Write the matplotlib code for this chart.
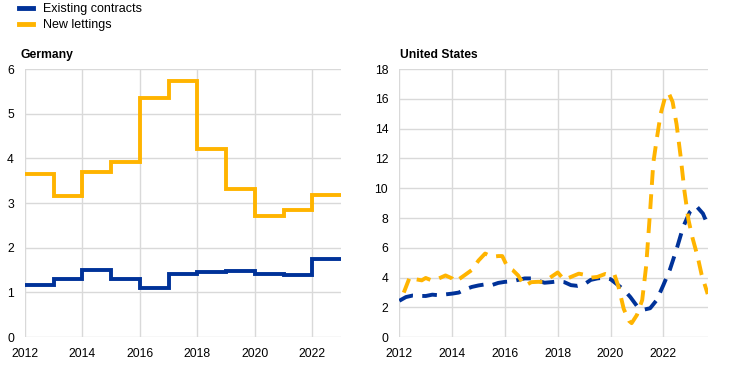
import matplotlib
matplotlib.use('Agg')
import matplotlib.pyplot as plt
from matplotlib.lines import Line2D

plt.rcParams['font.family'] = ['Liberation Sans', 'DejaVu Sans']

blue = '#003299'
orange = '#ffb400'
grid_col = '#d9d9d9'

# Germany - annual values
de_years = [2012, 2013, 2014, 2015, 2016, 2017, 2018, 2019, 2020, 2021, 2022]
de_existing = [1.17, 1.30, 1.50, 1.29, 1.09, 1.40, 1.45, 1.47, 1.41, 1.39, 1.75]
de_new = [3.66, 3.16, 3.70, 3.92, 5.36, 5.73, 4.21, 3.32, 2.72, 2.85, 3.17]

# United States
us_x_existing = [2012.0, 2012.25, 2012.5, 2012.75, 2013.0, 2013.25, 2013.5, 2013.75,
                 2014.0, 2014.25, 2014.5, 2014.75, 2015.0, 2015.25, 2015.5, 2015.75,
                 2016.0, 2016.25, 2016.5, 2016.75, 2017.0, 2017.25, 2017.5, 2017.75,
                 2018.0, 2018.25, 2018.5, 2018.75, 2019.0, 2019.25, 2019.5, 2019.75,
                 2020.0, 2020.25, 2020.5, 2020.75, 2021.0, 2021.25, 2021.5, 2021.75,
                 2022.0, 2022.25, 2022.5, 2022.75, 2023.0, 2023.25, 2023.5, 2023.68]
us_existing = [2.45, 2.70, 2.80, 2.78, 2.77, 2.86, 2.82, 2.88,
               2.93, 3.00, 3.22, 3.38, 3.48, 3.55, 3.50, 3.65,
               3.72, 3.75, 3.85, 3.95, 3.95, 3.80, 3.66, 3.70,
               3.75, 3.70, 3.50, 3.45, 3.55, 3.85, 3.95, 4.00,
               3.90, 3.55, 3.20, 2.70, 2.10, 1.85, 1.95, 2.50,
               3.50, 4.55, 5.90, 7.40, 8.40, 8.80, 8.30, 7.55]

us_x_new = [2012.17, 2012.4, 2012.6, 2012.85, 2013.0, 2013.25, 2013.5, 2013.75,
            2014.0, 2014.1, 2014.3, 2014.5, 2014.75, 2015.0, 2015.25, 2015.5,
            2015.75, 2015.9, 2016.1, 2016.3, 2016.5, 2016.75, 2017.0, 2017.25,
            2017.5, 2017.75, 2018.0, 2018.25, 2018.5, 2018.8, 2019.0, 2019.25,
            2019.5, 2019.8, 2020.0, 2020.15, 2020.3, 2020.5, 2020.7, 2020.8,
            2021.0, 2021.2, 2021.35, 2021.5, 2021.62, 2021.75, 2021.9, 2022.05,
            2022.2, 2022.35, 2022.5, 2022.65, 2022.8, 2022.95, 2023.1, 2023.3,
            2023.45, 2023.68]
us_new = [3.00, 4.05, 3.90, 3.82, 3.98, 3.80, 3.95, 4.15,
          3.95, 3.72, 3.95, 4.20, 4.52, 5.15, 5.62, 5.40,
          5.45, 5.45, 4.70, 4.50, 4.15, 3.45, 3.70, 3.72,
          3.72, 4.05, 4.35, 3.85, 4.05, 4.27, 4.20, 4.00,
          4.05, 4.25, 4.15, 4.20, 3.40, 1.90, 1.10, 0.95,
          1.50, 2.50, 4.80, 8.50, 11.70, 13.30, 15.00, 16.00,
          16.40, 15.80, 14.30, 12.20, 9.80, 7.90, 6.70, 5.40,
          4.20, 2.90]

fig = plt.figure(figsize=(7.44, 3.66), dpi=100)
ax1 = fig.add_axes([25 / 744, 1 - 337 / 366, 316 / 744, 268 / 366])
ax2 = fig.add_axes([399.3 / 744, 1 - 337.3 / 366, 308.4 / 744, 268.3 / 366])

for ax in (ax1, ax2):
    for s in ax.spines.values():
        s.set_visible(False)
    ax.grid(True, color=grid_col, linewidth=1.0)
    ax.set_axisbelow(True)
    ax.tick_params(length=0, pad=8, labelsize=8.7, colors='black')

# Germany
ax1.plot(de_years + [2023], de_existing + [de_existing[-1]], drawstyle='steps-post',
         color=blue, lw=2.8, solid_joinstyle='miter')
ax1.plot(de_years + [2023], de_new + [de_new[-1]], drawstyle='steps-post',
         color=orange, lw=2.8, solid_joinstyle='miter')
ax1.set_xlim(2012, 2023)
ax1.set_ylim(0, 6)
ax1.set_xticks(range(2012, 2023, 2))
ax1.set_yticks(range(0, 7))

# United States
ax2.plot(us_x_existing, us_existing, color=blue, lw=2.8, dashes=(3.8, 2.4))
ax2.plot(us_x_new, us_new, color=orange, lw=2.8, dashes=(3.8, 2.4))
ax2.set_xlim(2012, 2023.68)
ax2.set_ylim(0, 18)
ax2.set_xticks(range(2012, 2023, 2))
ax2.set_yticks(range(0, 19, 2))

fig.text(20.7 / 744, 1 - 55 / 366, 'Germany', fontsize=8.7, fontweight='bold', va='center')
fig.text(399.5 / 744, 1 - 55 / 366, 'United States', fontsize=8.7, fontweight='bold', va='center')

handles = [Line2D([], [], color=blue, lw=3.5), Line2D([], [], color=orange, lw=3.5)]
fig.legend(handles, ['Existing contracts', 'New lettings'], loc='upper left',
           bbox_to_anchor=(19 / 744, 1 - 3 / 366), frameon=False, fontsize=9,
           handlelength=1.1, handletextpad=0.8, labelspacing=0.35,
           borderpad=0, borderaxespad=0)

fig.savefig('out.png', dpi=100)
